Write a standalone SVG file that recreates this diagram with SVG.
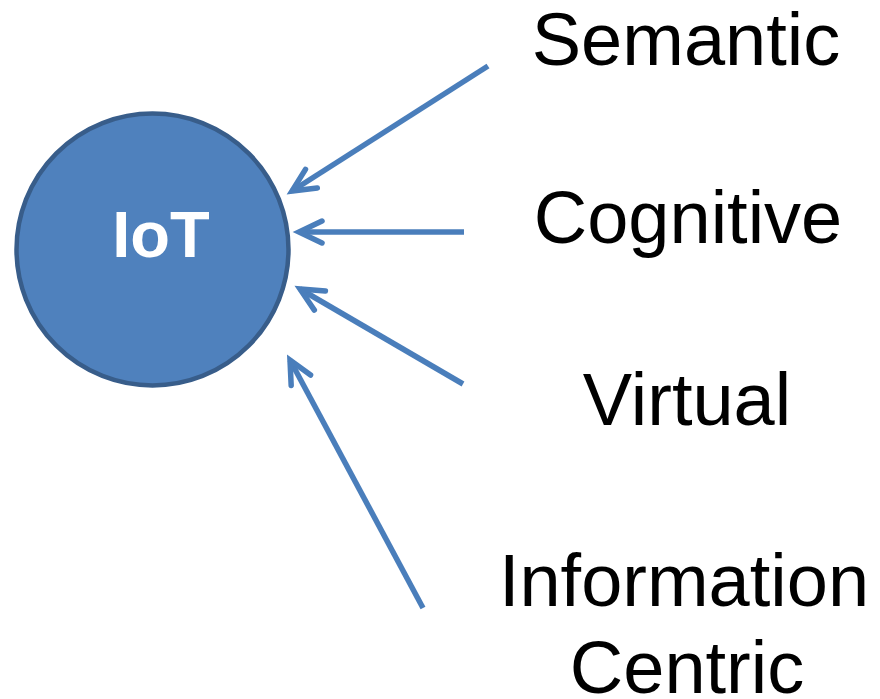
<svg xmlns="http://www.w3.org/2000/svg" width="880" height="699" viewBox="0 0 880 699">
  <style>
    .lbl { font-family: "Liberation Sans", Arial, sans-serif; font-size: 74px; fill: #000; text-anchor: middle; }
    .conn { stroke: #4A7EBB; stroke-width: 5.5; fill: none; stroke-linecap: butt; }
  </style>
  <defs>
    <marker id="arr" markerUnits="userSpaceOnUse" markerWidth="40" markerHeight="40" viewBox="-30 -20 40 40" refX="0" refY="0" orient="auto" overflow="visible">
      <path d="M -23,-11 L 0,0 L -23,11" fill="none" stroke="#4A7EBB" stroke-width="5.5" stroke-linecap="round" stroke-linejoin="miter"/>
    </marker>
  </defs>
  <rect width="880" height="699" fill="#fff"/>
  <g id="iot">
    <circle cx="152.5" cy="249.5" r="136" fill="#4F81BD" stroke="#385D8A" stroke-width="4.5"/>
    <text x="161" y="257" font-family="Liberation Sans, Arial, sans-serif" font-size="65" font-weight="bold" fill="#fff" text-anchor="middle">IoT</text>
  </g>
  <g id="connectors">
    <line class="conn" x1="488" y1="66" x2="292" y2="191" marker-end="url(#arr)"/>
    <line class="conn" x1="464" y1="232" x2="299" y2="232" marker-end="url(#arr)"/>
    <line class="conn" x1="463" y1="384" x2="300" y2="289" marker-end="url(#arr)"/>
    <line class="conn" x1="423" y1="608" x2="290" y2="360" marker-end="url(#arr)"/>
  </g>
  <g id="semantic"><text class="lbl" x="686" y="65">Semantic</text></g>
  <g id="cognitive"><text class="lbl" x="688" y="243">Cognitive</text></g>
  <g id="virtual"><text class="lbl" x="687" y="425">Virtual</text></g>
  <g id="information-centric"><text class="lbl" x="684" y="606">Information<tspan x="687" dy="87">Centric</tspan></text></g>
</svg>
